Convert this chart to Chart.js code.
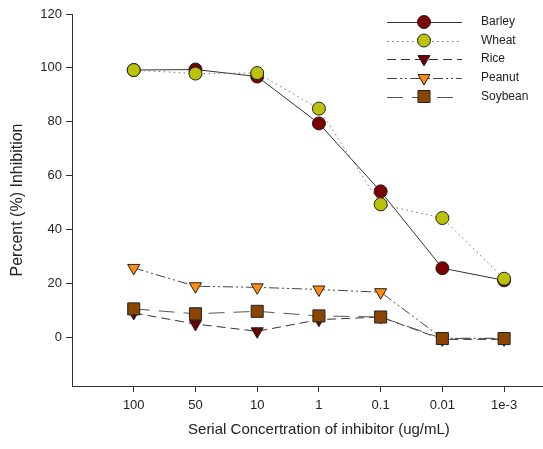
<!DOCTYPE html>
<html><head><meta charset="utf-8">
<script src="https://cdn.jsdelivr.net/npm/chart.js@4.4.1/dist/chart.umd.min.js"></script>
<style>html,body{margin:0;padding:0;background:#fff;}canvas{display:block;}</style>
</head><body>
<canvas id="c" width="543" height="449"></canvas>
<script>
// ---- data ----
const categories = ['100', '50', '10', '1', '0.1', '0.01', '1e-3'];
const barley  = [99.2, 99.4, 96.8, 79.4, 54.2, 25.7, 21.2];
const wheat   = [99.2, 97.9, 98.1, 84.9, 49.4, 44.3, 21.8];
const rice    = [9.1, 5.0, 2.3, 6.6, 7.6, -0.7, -0.7];
const peanut  = [25.8, 19.0, 18.6, 17.8, 16.8, -0.3, -0.3];
const soybean = [10.6, 8.8, 9.7, 8.0, 7.6, -0.4, -0.4];
const yTicks  = [0, 20, 40, 60, 80, 100, 120];
const seriesNames = ['Barley', 'Wheat', 'Rice', 'Peanut', 'Soybean'];
const xTitle = 'Serial Concertration of inhibitor (ug/mL)';
const yTitle = 'Percent (%) Inhibition';

const FONT = '"Liberation Sans", Arial, sans-serif';

const styles = {
  Barley:  {fill: '#7d0000', shape: 'circle',  r: 6.5, dash: [],             line: '#333', rot: 0,   order: 5},
  Wheat:   {fill: '#bcc20a', shape: 'circle',  r: 6.5, dash: [1.5, 3.5],     line: '#777', rot: 0,   order: 4},
  Rice:    {fill: '#6a0000', shape: 'triangle',r: 7,   dash: [9, 5],         line: '#333', rot: 180, order: 3},
  Peanut:  {fill: '#ff8a10', shape: 'triangle',r: 7,   dash: [10, 3, 2, 3, 2, 3], line: '#444', rot: 180, order: 2},
  Soybean: {fill: '#8b4500', shape: 'rect',    r: 8.5, dash: [16, 9],        line: '#555', rot: 0,   order: 1}
};
const values = {Barley: barley, Wheat: wheat, Rice: rice, Peanut: peanut, Soybean: soybean};

const datasets = seriesNames.map(name => {
  const s = styles[name];
  return {
    label: name,
    data: values[name].map((v, i) => ({x: i, y: v})),
    borderColor: s.line,
    borderWidth: 1,
    borderDash: s.dash,
    backgroundColor: s.fill,
    pointBackgroundColor: s.fill,
    pointBorderColor: '#222',
    pointBorderWidth: 1,
    pointStyle: s.shape,
    pointRadius: s.r,
    pointRotation: s.rot,
    tension: 0,
    fill: false,
    order: s.order,
    clip: false
  };
});

function drawMarker(ctx, shape, x, y, r, rot, fill) {
  ctx.save();
  ctx.beginPath();
  if (shape === 'circle') {
    ctx.arc(x, y, r, 0, Math.PI * 2);
  } else if (shape === 'triangle') {
    let rad = rot * Math.PI / 180;
    ctx.moveTo(x + Math.sin(rad) * r, y - Math.cos(rad) * r);
    rad += 2 * Math.PI / 3;
    ctx.lineTo(x + Math.sin(rad) * r, y - Math.cos(rad) * r);
    rad += 2 * Math.PI / 3;
    ctx.lineTo(x + Math.sin(rad) * r, y - Math.cos(rad) * r);
    ctx.closePath();
  } else {
    const s = Math.SQRT1_2 * r;
    ctx.rect(x - s, y - s, 2 * s, 2 * s);
  }
  ctx.fillStyle = fill;
  ctx.fill();
  ctx.lineWidth = 1;
  ctx.strokeStyle = '#222';
  ctx.stroke();
  ctx.restore();
}

const legendPlugin = {
  id: 'customLegend',
  afterDraw(chart) {
    const ctx = chart.ctx;
    const x0 = 387, x1 = 462, xm = 424, xt = 481;
    const ys = [22, 40.5, 59, 78, 96.5];
    seriesNames.forEach((name, i) => {
      const s = styles[name];
      const y = Math.round(ys[i]) + 0.5;
      ctx.save();
      ctx.strokeStyle = s.line;
      ctx.lineWidth = 1;
      ctx.setLineDash(s.dash);
      ctx.beginPath();
      ctx.moveTo(x0, y);
      ctx.lineTo(x1, y);
      ctx.stroke();
      ctx.restore();
      drawMarker(ctx, s.shape, xm, ys[i], s.r, s.rot, s.fill);
      ctx.save();
      ctx.fillStyle = '#222';
      ctx.font = '12px ' + FONT;
      ctx.textBaseline = 'middle';
      ctx.textAlign = 'left';
      ctx.fillText(name, xt, ys[i]);
      ctx.restore();
    });
    // x-axis title, centred under the middle category (as in the original, whose axis was cropped)
    const xs = chart.scales.x;
    ctx.save();
    ctx.fillStyle = '#222';
    ctx.font = '15px ' + FONT;
    ctx.textAlign = 'center';
    ctx.textBaseline = 'middle';
    ctx.fillText(xTitle, xs.getPixelForValue((categories.length - 1) / 2), 430);
    ctx.restore();
  }
};

const axisGrid = {display: true, drawOnChartArea: false, drawTicks: true, tickLength: 6, color: '#333', lineWidth: 1};

new Chart(document.getElementById('c'), {
  type: 'line',
  data: {datasets},
  plugins: [legendPlugin],
  options: {
    responsive: false,
    animation: false,
    devicePixelRatio: 1,
    layout: {autoPadding: false, padding: {top: 14, left: 0, right: 0, bottom: 0}},
    plugins: {legend: {display: false}, tooltip: {enabled: false}},
    scales: {
      x: {
        type: 'linear',
        min: -1,
        max: 6.63,
        grid: axisGrid,
        border: {display: true, color: '#333', width: 1},
        afterBuildTicks: s => { s.ticks = categories.map((_, i) => ({value: i})); },
        afterFit: s => { s.height = 63; s.paddingLeft = 0; s.paddingRight = 0; },
        ticks: {
          autoSkip: false, maxRotation: 0, padding: 6,
          color: '#222', font: {family: FONT, size: 13},
          callback: v => categories[v] !== undefined ? categories[v] : ''
        },
        title: {display: false}
      },
      y: {
        type: 'linear',
        min: -18,
        max: 120,
        grid: axisGrid,
        border: {display: true, color: '#333', width: 1},
        afterBuildTicks: s => { s.ticks = yTicks.map(v => ({value: v})); },
        afterFit: s => { s.width = 72; },
        ticks: {
          padding: 4, color: '#222', font: {family: FONT, size: 13}
        },
        title: {
          display: true, text: yTitle,
          color: '#222', font: {family: FONT, size: 16}, padding: {top: 8, bottom: 0}
        }
      }
    }
  }
});
</script>
</body></html>
